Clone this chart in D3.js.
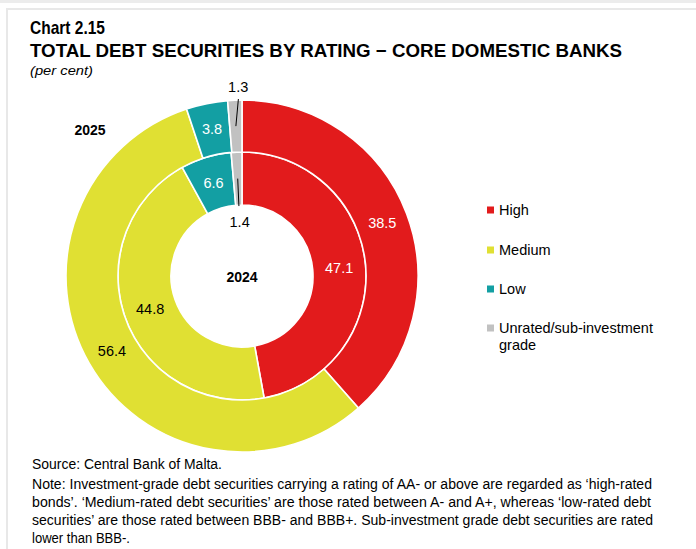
<!DOCTYPE html>
<html>
<head>
<meta charset="utf-8">
<script src="https://cdn.jsdelivr.net/npm/d3@7/dist/d3.min.js"></script>
<style>
  html, body { margin: 0; padding: 0; background: #fff; }
  svg { display: block; }
  text { font-family: "Liberation Sans", Arial, sans-serif; fill: #000; }
</style>
</head>
<body>
<svg id="chart" width="696" height="549"></svg>
<script>
// Rating categories, in drawing order (clockwise from 12 o'clock)
const categories = ["High", "Medium", "Low", "Unrated/sub-investment grade"];
const colors = ["#e21b1c", "#e0e033", "#139fa3", "#c1c1c1"];

// Shares of total debt securities (per cent)
const values2025 = [38.5, 56.4, 3.8, 1.3];
const values2024 = [47.1, 44.8, 6.6, 1.4];

// Labels drawn inside the slice are white on dark colours
const labelInsideColor = ["#fff", "#000", "#fff", "#000"];

const titleLine1 = "Chart 2.15";
const titleLine2 = "TOTAL DEBT SECURITIES BY RATING \u2212 CORE DOMESTIC BANKS";
const subtitle = "(per cent)";
const sourceText = "Source: Central Bank of Malta.";
const noteLines = [
  "Note: Investment-grade debt securities carrying a rating of AA- or above are regarded as \u2018high-rated",
  "bonds\u2019. \u2018Medium-rated debt securities\u2019 are those rated between A- and A+, whereas \u2018low-rated debt",
  "securities\u2019 are those rated between BBB- and BBB+. Sub-investment grade debt securities are rated",
  "lower than BBB-."
];
const noteWidths = [620, 619, 621, 98];

const svg = d3.select("#chart");

// Page frame
svg.append("rect").attr("x", 0).attr("y", 0).attr("width", 696).attr("height", 3).attr("fill", "#ececec");
svg.append("rect").attr("x", 6).attr("y", 8).attr("width", 690).attr("height", 2).attr("fill", "#e8e8e8");
svg.append("rect").attr("x", 6).attr("y", 8).attr("width", 2).attr("height", 541).attr("fill", "#e8e8e8");

// Titles
svg.append("text").attr("x", 30).attr("y", 34)
  .attr("font-size", 18.5).attr("font-weight", "bold")
  .attr("textLength", 75).attr("lengthAdjust", "spacingAndGlyphs")
  .text(titleLine1);
svg.append("text").attr("x", 30).attr("y", 57)
  .attr("font-size", 18.5).attr("font-weight", "bold")
  .attr("textLength", 592).attr("lengthAdjust", "spacingAndGlyphs")
  .text(titleLine2);
svg.append("text").attr("x", 30).attr("y", 75)
  .attr("font-size", 13).attr("font-style", "italic")
  .attr("textLength", 63).attr("lengthAdjust", "spacingAndGlyphs")
  .text(subtitle);

// Donut geometry
const cx = 242, cy = 276;
const rHole = 71, rMid = 124, rOuter = 176;

const pie = d3.pie().sort(null).value(d => d.value);
const g = svg.append("g").attr("transform", `translate(${cx},${cy})`);

function ring(values, r0, r1, cls) {
  const data = pie(values.map((v, i) => ({ value: v, i })));
  const arc = d3.arc().innerRadius(r0).outerRadius(r1);
  const grp = g.append("g").attr("class", cls);
  grp.selectAll("path").data(data).join("path")
    .attr("d", arc)
    .attr("fill", d => colors[d.data.i])
    .attr("stroke", "#fff").attr("stroke-width", 1.6)
    .attr("stroke-linejoin", "round");
  return { data, arc, grp };
}

const inner = ring(values2024, rHole, rMid, "ring-2024");
const outer = ring(values2025, rMid, rOuter, "ring-2025");

function polar(r, a) { return [r * Math.sin(a), -r * Math.cos(a)]; }

// In-slice labels for the larger slices
function sliceLabels(lbl) {
  lbl.grp.selectAll("text.val")
    .data(lbl.data.filter(d => d.data.i < 3))
    .join("text")
    .attr("class", "val")
    .attr("transform", d => `translate(${lbl.arc.centroid(d)})`)
    .attr("text-anchor", "middle").attr("dy", "0.36em")
    .attr("font-size", 14.5)
    .style("fill", d => labelInsideColor[d.data.i])
    .text(d => d.data.value.toFixed(1));
}
sliceLabels(inner);
sliceLabels(outer);

// Small unrated slices: labelled outside with a leader line
{
  const d = outer.data[3];
  const mid = (d.startAngle + d.endAngle) / 2;
  const a = 0.25 * d.startAngle + 0.75 * d.endAngle;
  const p0 = polar((rMid + rOuter) / 2, mid);
  const p1 = polar(rOuter + 1, a);
  const pt = polar(rOuter + 13, a);
  outer.grp.append("line").attr("x1", p0[0]).attr("y1", p0[1]).attr("x2", p1[0]).attr("y2", p1[1])
    .attr("stroke", "#000").attr("stroke-width", 1);
  outer.grp.append("text").attr("x", pt[0]).attr("y", pt[1])
    .attr("text-anchor", "middle").attr("dy", "0.36em").attr("font-size", 14.5)
    .text(d.data.value.toFixed(1));
}
{
  const d = inner.data[3];
  const mid = (d.startAngle + d.endAngle) / 2;
  const p0 = polar((rHole + rMid) / 2, mid);
  const p1 = polar(rHole - 1, mid);
  const pt = polar(rHole - 17, mid);
  inner.grp.append("line").attr("x1", p0[0]).attr("y1", p0[1]).attr("x2", p1[0]).attr("y2", p1[1])
    .attr("stroke", "#000").attr("stroke-width", 1);
  inner.grp.append("text").attr("x", pt[0]).attr("y", pt[1])
    .attr("text-anchor", "middle").attr("dy", "0.36em").attr("font-size", 14.5)
    .text(d.data.value.toFixed(1));
}

// Year labels
g.append("text").attr("x", 0).attr("y", 1).attr("text-anchor", "middle").attr("dy", "0.36em")
  .attr("font-size", 14).attr("font-weight", "bold").text("2024");
svg.append("text").attr("x", 90).attr("y", 130).attr("text-anchor", "middle").attr("dy", "0.36em")
  .attr("font-size", 14).attr("font-weight", "bold").text("2025");

// Legend
const legendY = [210, 250, 289, 328];
const legend = svg.append("g").attr("class", "legend");
categories.forEach((c, i) => {
  legend.append("rect").attr("x", 487).attr("y", legendY[i] - 3.5).attr("width", 7).attr("height", 7)
    .attr("fill", colors[i]);
  const t = legend.append("text").attr("x", 499).attr("y", legendY[i]).attr("dy", "0.36em")
    .attr("font-size", 14.5);
  if (c === "Unrated/sub-investment grade") {
    t.append("tspan").attr("x", 499).text("Unrated/sub-investment");
    t.append("tspan").attr("x", 499).attr("dy", 17).text("grade");
  } else {
    t.text(c);
  }
});

// Source and note
svg.append("text").attr("x", 32).attr("y", 469).attr("font-size", 14)
  .attr("textLength", 190).attr("lengthAdjust", "spacingAndGlyphs")
  .text(sourceText);
noteLines.forEach((line, i) => {
  svg.append("text").attr("x", 32).attr("y", 489 + i * 18).attr("font-size", 14)
    .attr("textLength", noteWidths[i]).attr("lengthAdjust", "spacingAndGlyphs")
    .text(line);
});
</script>
</body>
</html>
